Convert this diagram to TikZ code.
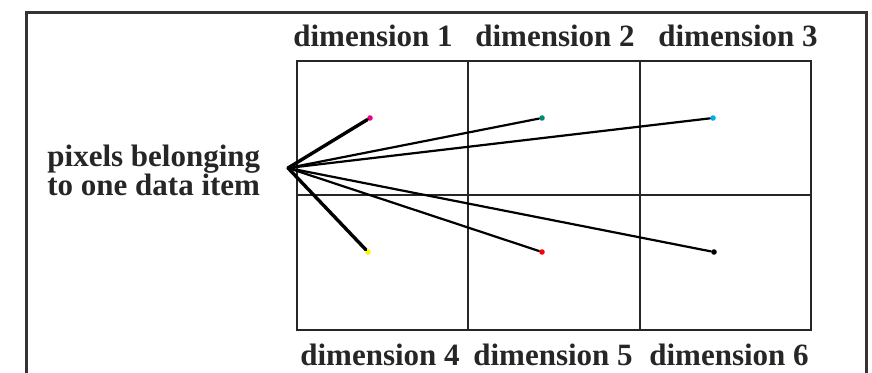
\documentclass[tikz,border=0pt]{standalone}
\usepackage{fontspec}
\setmainfont{Liberation Serif}
\usepackage{tikz}
\usetikzlibrary{positioning}

\tikzset{
  dimlabel/.style={font=\fontsize{15.5}{18}\selectfont\bfseries, inner sep=0pt, text=black!85},
  pixdot/.style={circle, fill=#1, inner sep=0pt, minimum size=2.8pt},
  link/.style={line width=1.1pt, black, line cap=round},
  shortlink/.style={line width=1.7pt, black, line cap=round}
}

\begin{document}
\begin{tikzpicture}[x=0.5pt, y=-0.5pt]

\clip (0,0) rectangle (872,373);

% Outer frame (bottom edge runs off the picture)
\draw[line width=1.5pt, black!80] (26,13) rectangle (866,420);

% Grid of the six dimensions
\coordinate (g-nw) at (297,61);
\coordinate (g-se) at (811,330);
\draw[line width=1.2pt, black!85] (g-nw) rectangle (g-se);
\draw[line width=1.2pt, black!85] (468,61) -- (468,330);
\draw[line width=1.2pt, black!85] (640,61) -- (640,330);
\draw[line width=1.2pt, black!85] (297,195) -- (811,195);

% Dimension labels
\node[dimlabel] (dim1) at (373,36) {dimension 1};
\node[dimlabel] (dim2) at (555,36) {dimension 2};
\node[dimlabel] (dim3) at (738,36) {dimension 3};
\node[dimlabel] (dim4) at (380,355) {dimension 4};
\node[dimlabel] (dim5) at (553,355) {dimension 5};
\node[dimlabel] (dim6) at (729,355) {dimension 6};

% Data item text
\node[dimlabel, align=left, anchor=west] (item) at (47,170)
  {pixels belonging\\[-3.5pt]to one data item};

% Pixels of the data item
\coordinate (hub) at (288,168);
\node[pixdot=magenta] (p1) at (370,118) {};
\node[pixdot=green!55!blue] (p2) at (542,118) {};
\node[pixdot=cyan] (p3) at (713,118) {};
\node[pixdot=yellow] (p4) at (368,252) {};
\node[pixdot=red] (p5) at (542,252) {};
\node[pixdot=black] (p6) at (714,252) {};

% Connectors
\draw[shortlink] (hub) -- (p1);
\draw[shortlink] (hub) -- (p4);
\draw[link] (hub) -- (p2);
\draw[link] (hub) -- (p3);
\draw[link] (hub) -- (p5);
\draw[link] (hub) -- (p6);

\end{tikzpicture}
\end{document}
